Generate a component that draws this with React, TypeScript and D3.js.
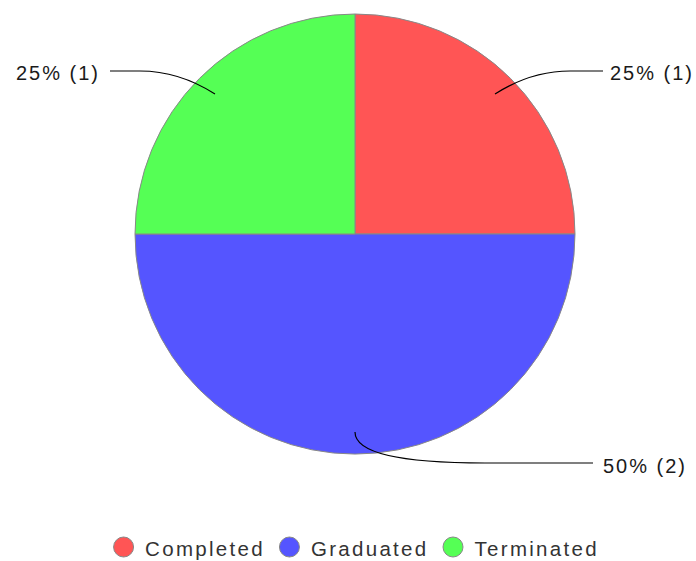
import React, { useEffect, useRef } from "react";
import * as d3 from "d3";

const categories = ["Completed", "Graduated", "Terminated"];
const counts = [1, 2, 1];
const colors = ["#ff5555", "#5555ff", "#55ff55"];

const W = 696;
const H = 561;

export default function App() {
  const ref = useRef<SVGSVGElement>(null);

  useEffect(() => {
    const svg = d3.select(ref.current);
    svg.selectAll("*").remove();
    const cx = 355, cy = 234, r = 220;
    const total = d3.sum(counts);
    const pie = d3.pie<number>().sort(null).value((d) => d);
    const arcs = pie(counts);
    const arc = d3.arc<d3.PieArcDatum<number>>().innerRadius(0).outerRadius(r);
    const g = svg.append("g").attr("transform", `translate(${cx},${cy})`);
    g.selectAll("path.slice")
      .data(arcs)
      .join("path")
      .attr("class", "slice")
      .attr("d", arc as any)
      .attr("fill", (_, i) => colors[i])
      .attr("stroke", "#888")
      .attr("stroke-width", 1);

    const font = "'Liberation Sans', Arial, sans-serif";
    const fs = 20;
    const ls = 2;
    arcs.forEach((a, i) => {
      const mid = (a.startAngle + a.endAngle) / 2;
      const sx = Math.sin(mid) * r * 0.9;
      const sy = -Math.cos(mid) * r * 0.9;
      const right = Math.sin(mid) >= -1e-6;
      const bottom = Math.cos(mid) < -0.9;
      let path: string;
      let tx: number, ty: number;
      if (bottom) {
        const hy = sy + 31;
        const ex = 238;
        path = `M${sx},${sy} Q${sx},${hy} ${sx + 130},${hy} L${ex},${hy}`;
        tx = ex + 10;
        ty = hy + 3;
      } else {
        const hy = sy - 23;
        const dir = right ? 1 : -1;
        const ex = right ? 248 : -245;
        path = `M${sx},${sy} Q${sx + dir * 36},${hy} ${sx + dir * 75},${hy} L${ex},${hy}`;
        tx = right ? ex + 7 : ex - 10;
        ty = hy + 2;
      }
      g.append("path")
        .attr("d", path)
        .attr("fill", "none")
        .attr("stroke", "#000")
        .attr("stroke-width", 1.2);
      const pct = Math.round((counts[i] / total) * 100);
      g.append("text")
        .attr("x", tx)
        .attr("y", ty)
        .attr("text-anchor", right ? "start" : "end")
        .attr("dominant-baseline", "central")
        .attr("font-family", font)
        .attr("font-size", fs)
        .attr("letter-spacing", ls)
        .attr("fill", "#1a1a1a")
        .text(`${pct}% (${counts[i]})`);
    });

    // legend
    const lg = svg.append("g");
    const items = categories.map((c, i) => {
      const it = lg.append("g");
      it.append("circle")
        .attr("cx", 10.5)
        .attr("cy", 0)
        .attr("r", 10)
        .attr("fill", colors[i])
        .attr("stroke", "#888")
        .attr("stroke-width", 1);
      const t = it.append("text")
        .attr("x", 32)
        .attr("y", 1)
        .attr("dominant-baseline", "central")
        .attr("font-family", font)
        .attr("font-size", 20.5)
        .attr("letter-spacing", 2.3)
        .attr("fill", "#333")
        .text(c);
      const w = (t.node() as SVGTextElement).getComputedTextLength();
      return { it, w: 32 + w };
    });
    const gap = 14;
    const totalW = d3.sum(items, (d) => d.w) + gap * (items.length - 1);
    let x = 356 - totalW / 2;
    items.forEach((d) => {
      d.it.attr("transform", `translate(${x},547)`);
      x += d.w + gap;
    });
  }, []);

  return (
    <svg
      ref={ref}
      width={W}
      height={H}
      style={{ position: "absolute", left: 0, top: 0, background: "#fff" }}
    />
  );
}
